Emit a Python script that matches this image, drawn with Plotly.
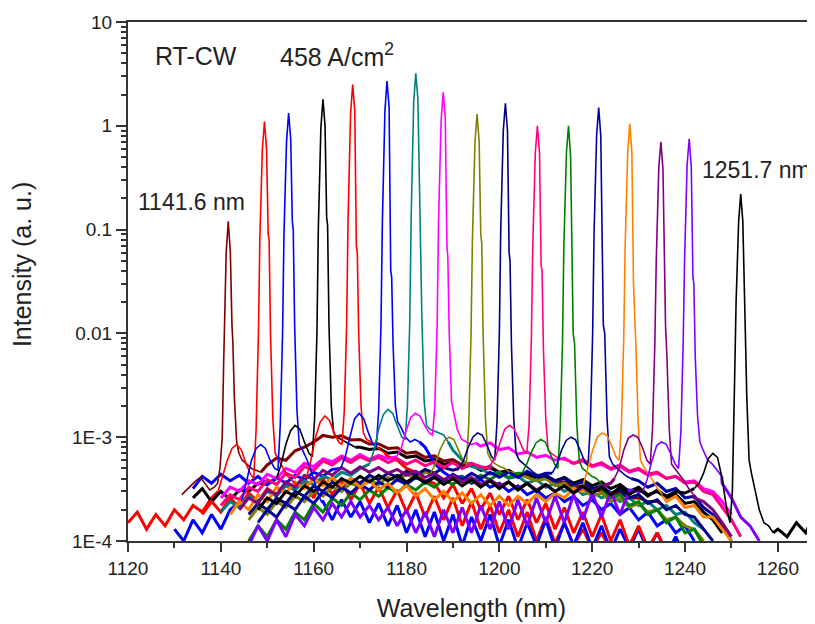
import plotly.graph_objects as go

# sampling offsets (nm) used around each lasing line
peak_offsets = [-10, -9, -8, -7, -6, -5, -4, -3, -2.3, -1.8, -1.3, -1.0, -0.45,
                0, 0.45, 0.8, 1.0, 1.3, 1.8, 2.3, 3.0, 4.0, 5.0, 6.0, 7.0]

# lasing wavelengths (nm) and line colours
peak_wl = [1141.6, 1149.4, 1154.6, 1162.0, 1168.4, 1175.8, 1182.0, 1187.9, 1195.2,
           1201.3, 1208.2, 1214.9, 1221.4, 1228.1, 1234.8, 1240.9, 1252.0]
colors = ['#800000', '#FF0000', '#0000FF', '#000000', '#FF0000', '#0000FF', '#008080',
          '#FF00FF', '#808000', '#000080', '#FF0080', '#008000', '#0000A0', '#FF8000',
          '#800080', '#8000FF', '#000000']

# intensity (a.u.) at peak_offsets around each line
pk_1141 = [2.8e-4, 3.1e-4, 3.5e-4, 3.8e-4, 4.1e-4, 3.6e-4, 3.1e-4, 3.3e-4, 3.6e-4, 5e-4, 1e-3, 5e-3, 0.06,
           0.12, 0.06, 0.012, 0.008, 2.5e-3, 9e-4, 7e-4, 6e-4, 5.5e-4, 5e-4, 4.8e-4, 4.6e-4]
pk_1149 = [3.0e-4, 4.2e-4, 6.0e-4, 7.8e-4, 8.5e-4, 7.6e-4, 5.6e-4, 4.4e-4, 4.0e-4, 1.2e-3, 0.01, 0.08, 0.6,
           1.1, 0.6, 0.09, 0.08, 0.01, 1.5e-3, 7e-4, 6.2e-4, 5e-4, 4.2e-4, 3.8e-4, 3.5e-4]
pk_1154 = [2.5e-4, 4.0e-4, 6.0e-4, 7.8e-4, 8.5e-4, 7.8e-4, 6.0e-4, 5.0e-4, 4.8e-4, 1.3e-3, 0.01, 0.09, 0.7,
           1.33, 0.75, 0.12, 0.1, 0.012, 1.8e-3, 8.5e-4, 7.5e-4, 6.0e-4, 4.5e-4, 3.2e-4, 2.4e-4]
pk_1162 = [4.0e-4, 5.5e-4, 8.5e-4, 1.15e-3, 1.3e-3, 1.2e-3, 9.0e-4, 7.0e-4, 6.5e-4, 1.5e-3, 0.01, 0.1, 0.95,
           1.8, 1.0, 0.13, 0.11, 0.012, 2e-3, 1.1e-3, 1.0e-3, 9.5e-4, 9e-4, 8.5e-4, 8e-4]
pk_1168 = [4.0e-4, 6.0e-4, 1.0e-3, 1.4e-3, 1.6e-3, 1.45e-3, 1.1e-3, 9.0e-4, 8.5e-4, 1.8e-3, 0.012, 0.12, 1.3,
           2.5, 1.4, 0.07, 0.06, 0.01, 2e-3, 1.1e-3, 9.5e-4, 9e-4, 8.2e-4, 7.5e-4, 7e-4]
pk_1175 = [5.0e-4, 6.5e-4, 1.0e-3, 1.5e-3, 1.7e-3, 1.5e-3, 1.1e-3, 8.5e-4, 8.3e-4, 1.8e-3, 0.012, 0.12, 1.4,
           2.7, 1.5, 0.04, 0.035, 8e-3, 2e-3, 1.4e-3, 1.25e-3, 1.0e-3, 9.0e-4, 9.5e-4, 9e-4]
pk_1182 = [5.5e-4, 7.5e-4, 1.2e-3, 1.65e-3, 1.85e-3, 1.7e-3, 1.3e-3, 1.0e-3, 9.5e-4, 2e-3, 0.013, 0.13, 1.7,
           3.2, 1.8, 0.25, 0.2, 0.015, 2.2e-3, 1.3e-3, 1.2e-3, 1.15e-3, 1.1e-3, 1.05e-3, 9e-4]
pk_1188 = [6.5e-4, 8.0e-4, 1.15e-3, 1.55e-3, 1.7e-3, 1.6e-3, 1.3e-3, 1.1e-3, 1.05e-3, 2e-3, 0.012, 0.12, 1.1,
           2.1, 1.2, 0.07, 0.055, 0.01, 2.2e-3, 1.7e-3, 1.2e-3, 9.5e-4, 9e-4, 8.5e-4, 8.8e-4]
pk_1195 = [4.5e-4, 5.5e-4, 7.5e-4, 9.3e-4, 1.0e-3, 9.5e-4, 7.5e-4, 6.0e-4, 5.5e-4, 1.3e-3, 0.01, 0.08, 0.7,
           1.3, 0.7, 0.09, 0.075, 0.01, 1.5e-3, 7e-4, 6e-4, 5.5e-4, 5.2e-4, 5e-4, 4.6e-4]
pk_1201 = [5.0e-4, 6.0e-4, 8.0e-4, 1.0e-3, 1.1e-3, 1.05e-3, 8.5e-4, 6.5e-4, 6.0e-4, 1.4e-3, 0.01, 0.1, 0.9,
           1.65, 0.9, 0.06, 0.05, 0.008, 1.5e-3, 7e-4, 6e-4, 5.5e-4, 5e-4, 4.6e-4, 4.3e-4]
pk_1208 = [5.5e-4, 6.5e-4, 9.0e-4, 1.2e-3, 1.3e-3, 1.2e-3, 9.5e-4, 7.5e-4, 7.0e-4, 1.3e-3, 0.009, 0.07, 0.55,
           1.0, 0.55, 0.045, 0.04, 0.007, 1.5e-3, 7.5e-4, 7e-4, 6.5e-4, 6.2e-4, 6e-4, 5.8e-4]
pk_1215 = [4.5e-4, 5.5e-4, 7.2e-4, 8.8e-4, 9.5e-4, 9.0e-4, 7.0e-4, 5.5e-4, 5.0e-4, 1.2e-3, 0.008, 0.07, 0.55,
           1.0, 0.5, 0.03, 0.01, 0.008, 1.3e-3, 6e-4, 5e-4, 4.6e-4, 4.2e-4, 4e-4, 3.6e-4]
pk_1221 = [4.5e-4, 5.5e-4, 7.5e-4, 9.3e-4, 1.0e-3, 9.5e-4, 7.5e-4, 5.8e-4, 5.3e-4, 1.3e-3, 0.01, 0.09, 0.8,
           1.5, 0.8, 0.03, 0.012, 0.01, 1.5e-3, 6.5e-4, 5.5e-4, 5e-4, 4.6e-4, 4.2e-4, 4e-4]
pk_1228 = [3.5e-4, 5.0e-4, 7.5e-4, 1.0e-3, 1.1e-3, 1.05e-3, 8.5e-4, 6.5e-4, 6.0e-4, 1.3e-3, 0.009, 0.07, 0.55,
           1.05, 0.55, 0.03, 0.02, 0.008, 1.4e-3, 6e-4, 5.2e-4, 4.5e-4, 3.8e-4, 3.2e-4, 2.8e-4]
pk_1234 = [4.0e-4, 5.0e-4, 7.5e-4, 9.8e-4, 1.05e-3, 1.0e-3, 8.0e-4, 6.0e-4, 5.5e-4, 1.2e-3, 0.008, 0.05, 0.4,
           0.7, 0.38, 0.02, 0.012, 0.006, 1.2e-3, 5.5e-4, 5e-4, 4.4e-4, 3.8e-4, 3.2e-4, 2.8e-4]
pk_1240 = [3.0e-4, 4.0e-4, 6.0e-4, 8.3e-4, 9.0e-4, 8.6e-4, 7.0e-4, 5.5e-4, 5.0e-4, 1.1e-3, 0.008, 0.05, 0.42,
           0.75, 0.4, 0.035, 0.03, 0.006, 1.6e-3, 9e-4, 7.5e-4, 6e-4, 5.5e-4, 4.8e-4, 4.2e-4]
pk_1252 = [3.2e-4, 3.6e-4, 4.5e-4, 6.2e-4, 7.0e-4, 6.4e-4, 4.0e-4, 2.0e-4, 1.5e-4, 3e-4, 4e-3, 0.02, 0.12,
           0.22, 0.12, 0.015, 0.01, 2.5e-3, 6e-4, 4.5e-4, 3.2e-4, 2e-4, 1.5e-4, 1.4e-4, 1.2e-4]

# spontaneous emission background, units of 1e-4, every 2 nm from bg_start
bg_start = [1150, 1120, 1130, 1134, 1136, 1134, 1140, 1140, 1146,
            1146, 1140, 1146, 1148, 1142, 1144, 1146, 1148]
bg_1141 = [5.4, 6.3, 6.0, 7.4, 8.0, 9.0, 10.4, 10.0, 10.3, 9.4, 9.5, 8.6, 8.6, 7.8, 7.9, 7.0, 7.2, 6.4, 6.6,
           5.9, 6.1, 5.4, 5.6, 5.0, 5.2, 4.6, 4.8, 4.2, 4.4, 3.9, 4.0, 3.6, 3.7, 3.3, 3.4, 3.0, 3.1, 2.8,
           2.9, 2.6, 2.6, 2.4, 2.4, 2.1]
bg_1149 = [1.5, 1.9, 1.3, 1.8, 1.4, 2.0, 1.6, 2.2, 1.9, 2.6, 3, 3, 3, 3, 3, 3, 3, 3, 3, 3.8, 2.6, 4.0,
           2.8, 3.8, 2.5, 3.6, 2.3, 3.3, 2.1, 3.1, 1.9, 2.9, 1.7, 2.7, 1.6, 2.6, 1.4, 2.4, 1.3, 2.2, 1.2,
           2.0, 1.1, 1.9, 1.0, 1.7, 0.95, 1.5, 0.9, 1.3, 0.85, 1.2, 0.8]
bg_1154 = [1.3, 1.0, 1.6, 1.2, 1.8, 1.3, 2.0, 2.4, 3, 3, 3, 3, 3, 3, 3, 3, 2.4, 1.6, 2.5, 1.7, 2.4, 1.5,
           2.3, 1.4, 2.2, 1.2, 2.0, 1.1, 1.9, 1.0, 1.8, 0.9, 1.7, 1.0, 1.8, 0.9, 1.6, 0.85, 1.5, 0.9, 1.6,
           0.85, 1.5, 0.9, 1.5, 0.85, 1.4, 0.8, 1.3, 0.85, 1.3, 0.8, 1.2, 0.75, 1.1, 0.7]
bg_1162 = [2.6, 3.2, 2.4, 3.0, 2.5, 3.1, 3.0, 3.6, 3.5, 4, 4, 4, 4, 4, 4, 4, 4, 4, 8.0, 7.6, 7.8, 7.0, 7.2,
           6.4, 6.6, 5.9, 6.1, 5.5, 5.7, 5.1, 5.4, 4.8, 5.1, 4.5, 4.8, 4.2, 4.5, 4.0, 4.3, 3.8, 4.1, 3.6,
           3.9, 3.4, 3.7, 3.2, 3.5, 3.0, 3.3, 2.8, 3.0, 2.6, 2.8, 2.3, 2.4, 1.9, 1.6, 1.2]
bg_1168 = [1.8, 2.4, 1.9, 2.6, 2.1, 2.9, 2.4, 3.2, 2.8, 3.6, 3.2, 3.9, 4, 4, 4, 4, 4, 4, 4, 4, 6.5, 6.0,
           5.0, 4.6, 3.8, 3.6, 2.6, 3.5, 2.3, 3.2, 2.0, 2.9, 1.8, 2.7, 1.6, 2.5, 1.5, 2.3, 1.3, 2.1, 1.2,
           1.9, 1.1, 1.8, 1.0, 1.6, 0.9, 1.4, 0.85, 1.2, 0.8]
bg_1175 = [3.2, 4.2, 3.6, 4.4, 3.8, 4.3, 3.6, 4.2, 3.5, 4.1, 3.6, 4.3, 3.9, 4.6, 4.2, 4.9, 5, 5, 5, 5, 5,
           5, 5, 5, 5, 8.0, 5.6, 4.6, 4.0, 4.2, 3.6, 3.9, 3.3, 3.6, 3.0, 3.4, 2.8, 3.1, 2.6, 2.9, 2.4, 2.7,
           2.2, 2.5, 2.0, 2.3, 1.8, 2.1, 1.6, 1.9, 1.4, 1.6, 1.2, 1.4, 1.0]
bg_1182 = [1.9, 2.4, 2.1, 2.7, 2.4, 3.0, 2.7, 3.4, 3.1, 3.8, 3.5, 4.2, 3.9, 4.6, 4.3, 5.0, 5, 5, 5, 5, 5,
           5, 5, 5, 5, 7.5, 6.0, 5.2, 5.0, 4.4, 4.6, 4.0, 4.2, 3.6, 3.9, 3.3, 3.6, 3.0, 3.3, 2.8, 3.0, 2.6,
           2.8, 2.4, 2.6, 2.2, 2.4, 2.0, 2.2, 1.8, 1.9, 1.5, 1.3]
bg_1188 = [2.6, 3.3, 3.0, 3.8, 3.5, 4.4, 4.0, 5.0, 4.6, 5.6, 5.2, 6.2, 5.8, 6.6, 6.0, 6.8, 6.1, 6.7, 6.2, 6,
           6, 6, 6, 6, 6, 6, 6, 6, 8.2, 8.8, 7.6, 7.9, 6.9, 7.2, 6.4, 6.7, 6.0, 6.3, 5.6, 5.9, 5.2, 5.5,
           4.9, 5.2, 4.6, 4.9, 4.3, 4.5, 4.0, 4.2, 3.7, 3.8, 3.2, 3.0, 2.4, 1.8]
bg_1195 = [1.6, 2.1, 1.8, 2.4, 2.1, 2.7, 2.4, 3.0, 2.7, 3.3, 3.0, 3.6, 3.3, 3.9, 3.5, 4.1, 3.8, 4.4, 4.0,
           4.6, 4, 4, 4, 4, 4, 4, 4, 4, 4, 4.4, 4.1, 3.8, 4.0, 3.4, 3.6, 3.0, 3.2, 2.7, 2.9, 2.4, 2.6, 2.1,
           2.3, 1.9, 2.0, 1.6, 1.7, 1.4, 1.3, 1.0]
bg_1201 = [1.8, 2.3, 2.0, 2.6, 2.3, 3.0, 2.7, 3.4, 3.0, 3.7, 3.3, 4.0, 3.6, 4.3, 3.9, 4.5, 4.1, 4.7, 4.3,
           4.9, 4.5, 5.1, 4.8, 5, 5, 5, 5, 5, 5, 5, 5, 5, 4.2, 3.8, 4.0, 3.5, 3.7, 3.2, 3.4, 2.9, 3.1, 2.6,
           2.8, 2.3, 2.5, 2.0, 2.2, 1.8, 1.7, 1.3, 1.0]
bg_1208 = [2.2, 2.8, 2.5, 3.3, 3.0, 3.9, 3.5, 4.5, 4.1, 5.2, 4.8, 5.9, 5.4, 6.3, 5.7, 6.5, 5.9, 6.4, 5.7,
           6.2, 5.5, 6.0, 5.3, 5.8, 5.1, 5.7, 5.0, 5.6, 5.2, 5, 5, 5, 5, 5, 5, 5, 5, 5, 5.6, 6.1, 5.3, 5.7,
           5.0, 5.4, 4.7, 5.0, 4.4, 4.6, 4.0, 4.2, 3.6, 3.7, 3.0, 2.8, 2.1, 1.6, 1.1]
bg_1215 = [1.0, 1.4, 1.1, 1.6, 1.3, 1.9, 1.6, 2.3, 1.9, 2.6, 2.2, 2.9, 2.5, 3.1, 2.7, 3.3, 2.9, 3.5, 3.1,
           3.7, 3.3, 3.9, 3.5, 4.1, 3.7, 4.3, 3.9, 4.5, 4.1, 4.5, 4, 4, 4, 4, 4, 4, 4, 4, 3.2, 2.6, 2.8,
           2.2, 2.4, 1.8, 2.0, 1.5, 1.7, 1.2, 1.3, 0.9]
bg_1221 = [1.5, 2.0, 1.7, 2.3, 2.0, 2.7, 2.3, 3.0, 2.6, 3.3, 2.9, 3.5, 3.1, 3.7, 3.3, 3.9, 3.5, 4.1, 3.7,
           4.2, 3.8, 4.4, 3.9, 4.5, 4.0, 4.6, 4.1, 4.6, 4.1, 4.7, 4.2, 4.5, 4, 4, 4, 4, 4, 4, 4, 4, 4, 3.8,
           3.3, 3.6, 3.0, 3.2, 2.6, 2.7, 2.1, 1.8, 1.4, 1.0]
bg_1228 = [1.8, 2.4, 2.0, 2.8, 2.4, 3.3, 2.9, 3.7, 3.2, 4.0, 3.4, 4.1, 3.4, 4.0, 3.3, 3.8, 3.1, 3.6, 2.9,
           3.4, 2.7, 3.2, 2.5, 3.0, 2.4, 2.9, 2.3, 2.8, 2.2, 2.7, 2.2, 2.7, 2.3, 2.8, 2.4, 2.9, 2.6, 3.2,
           3, 3, 3, 3, 3, 3, 3, 3, 3, 2.4, 2.7, 2.1, 2.2, 1.7, 1.7, 1.3, 1.0]
bg_1234 = [2.0, 2.6, 2.3, 3.1, 2.8, 3.7, 3.3, 4.3, 3.9, 4.8, 4.3, 5.1, 4.5, 5.2, 4.6, 5.1, 4.5, 4.9, 4.3,
           4.7, 4.1, 4.5, 3.9, 4.3, 3.7, 4.1, 3.5, 3.9, 3.4, 3.7, 3.2, 3.6, 3.1, 3.5, 3.0, 3.4, 2.9, 3.3,
           2.9, 3.4, 3.6, 3, 3, 3, 3, 3, 3, 3, 3, 2.6, 2.4, 2.0, 1.5, 1.1]
bg_1240 = [0.9, 1.4, 1.0, 1.6, 1.1, 1.8, 1.4, 2.1, 1.6, 2.3, 1.7, 2.4, 1.7, 2.2, 1.6, 2.1, 1.4, 2.0, 1.2,
           1.9, 1.1, 2.0, 1.2, 2.1, 1.2, 2.2, 1.3, 2.4, 1.3, 2.5, 1.4, 2.6, 1.5, 2.7, 1.5, 2.8, 1.6, 2.9,
           1.7, 3.0, 1.8, 3.1, 3, 3, 3, 3, 3, 3, 3, 3, 3, 3.6, 2.6, 1.7, 1.4, 1.0]
bg_1252 = [2.0, 2.6, 2.3, 3.0, 2.7, 3.4, 3.0, 3.7, 3.3, 4.0, 3.6, 4.2, 3.7, 4.3, 3.8, 4.3, 3.7, 4.2, 3.6,
           4.1, 3.5, 4.0, 3.4, 3.9, 3.3, 3.8, 3.2, 3.7, 3.1, 3.6, 3.0, 3.5, 3.0, 3.4, 2.9, 3.4, 2.9, 3.3,
           2.8, 3.3, 2.8, 3.2, 2.7, 3.1, 2.7, 3.0, 2.9, 3, 3, 3, 3, 3, 3, 3, 3, 3, 1.3, 1.1, 1.5, 1.2, 1.9]

peaks = [pk_1141, pk_1149, pk_1154, pk_1162, pk_1168, pk_1175, pk_1182, pk_1188, pk_1195,
         pk_1201, pk_1208, pk_1215, pk_1221, pk_1228, pk_1234, pk_1240, pk_1252]
backgrounds = [bg_1141, bg_1149, bg_1154, bg_1162, bg_1168, bg_1175, bg_1182, bg_1188, bg_1195,
               bg_1201, bg_1208, bg_1215, bg_1221, bg_1228, bg_1234, bg_1240, bg_1252]

fig = go.Figure()
line_traces = []

for p, color, pk, start, bg in zip(peak_wl, colors, peaks, bg_start, backgrounds):
    win_x = [p + o for o in peak_offsets]
    left_x, left_y, right_x, right_y = [], [], [], []
    for i, v in enumerate(bg):
        w = start + 2 * i
        if w < p - 10:
            left_x.append(w)
            left_y.append(v * 1e-4)
        elif w > p + 7:
            right_x.append(w)
            right_y.append(v * 1e-4)
    # noisy background drawn thicker, joined to both ends of the lasing window
    bx = left_x + [win_x[0], None, win_x[-1]] + right_x
    by = left_y + [pk[0], None, pk[-1]] + right_y
    fig.add_trace(go.Scatter(x=bx, y=by, mode='lines', line=dict(color=color, width=3),
                             showlegend=False, hoverinfo='skip', connectgaps=False))
    line_traces.append(go.Scatter(x=win_x, y=pk, mode='lines', line=dict(color=color, width=1.6),
                                  showlegend=False, hoverinfo='skip'))

for tr in line_traces:
    fig.add_trace(tr)

axis_col = '#333333'
txt_col = '#222222'

# the page body keeps an 8 px margin, so the figure is 8 px smaller each way
fig.update_layout(
    width=807, height=616,
    margin=dict(l=120, r=0, t=14, b=83),
    paper_bgcolor='white', plot_bgcolor='white',
    font=dict(family='Liberation Sans, Arial, sans-serif', color=txt_col),
    showlegend=False,
    xaxis=dict(range=[1120, 1268], tickmode='linear', tick0=1120, dtick=20,
               ticks='outside', ticklen=9, tickwidth=2, tickcolor=axis_col,
               minor=dict(ticks='outside', ticklen=5, tickwidth=1.5, tickcolor=axis_col,
                          tick0=1120, dtick=10),
               showline=True, linecolor=axis_col, linewidth=2, mirror=True,
               showgrid=False, zeroline=False, tickfont=dict(size=19, color=txt_col),
               title=dict(text='Wavelength (nm)', font=dict(size=25, color=txt_col),
                          standoff=22)),
    yaxis=dict(type='log', range=[-4, 1], tickmode='array',
               tickvals=[1e-4, 1e-3, 1e-2, 1e-1, 1, 10],
               ticktext=['1E-4', '1E-3', '0.01', '0.1', '1', '10'],
               ticks='outside', ticklen=10, tickwidth=2, tickcolor=axis_col,
               minor=dict(ticks='outside', ticklen=5, tickwidth=1.5, tickcolor=axis_col,
                          dtick='D1'),
               showline=True, linecolor=axis_col, linewidth=2,
               showgrid=False, zeroline=False, tickfont=dict(size=19, color=txt_col)),
)

fig.add_annotation(text='Intensity (a. u.)', xref='paper', yref='paper', x=-0.154, y=0.532,
                   textangle=-90, showarrow=False, font=dict(size=25, color=txt_col),
                   xanchor='center', yanchor='middle')
fig.add_annotation(text='RT-CW', xref='paper', yref='paper', x=0.036, y=0.935,
                   showarrow=False, font=dict(size=25, color=txt_col),
                   xanchor='left', yanchor='middle')
fig.add_annotation(text='458 A/cm<sup>2</sup>', xref='paper', yref='paper', x=0.219, y=0.937,
                   showarrow=False, font=dict(size=25, color=txt_col),
                   xanchor='left', yanchor='middle')
fig.add_annotation(text='1141.6 nm', xref='paper', yref='paper', x=0.012, y=0.653,
                   showarrow=False, font=dict(size=23, color=txt_col),
                   xanchor='left', yanchor='middle')
fig.add_annotation(text='1251.7 nm', xref='paper', yref='paper', x=0.833, y=0.715,
                   showarrow=False, font=dict(size=23, color=txt_col),
                   xanchor='left', yanchor='middle')

fig.write_html("out.html")
